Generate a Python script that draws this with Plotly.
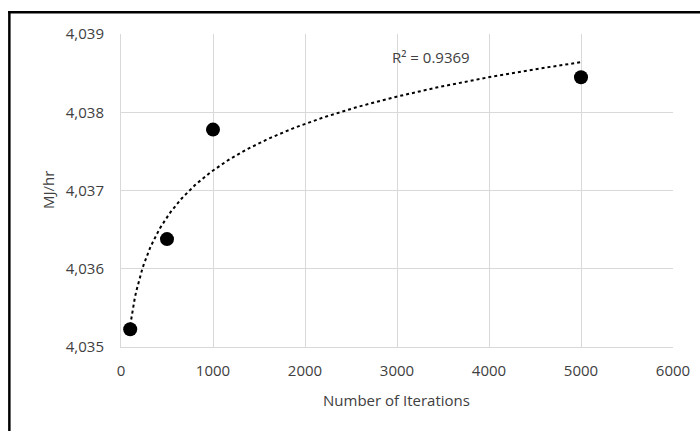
import numpy as np
import plotly.graph_objects as go

iterations = [100, 500, 1000, 5000]
mj_per_hr = [4035.227, 4036.379, 4037.778, 4038.448]
r2_label = "R² = 0.9369"

# Logarithmic trendline (least squares on ln x), as Excel does
x = np.array(iterations, dtype=float)
y = np.array(mj_per_hr, dtype=float)
a, b = np.polyfit(np.log(x), y, 1)
xt = np.linspace(x.min(), x.max(), 300)
yt = a * np.log(xt) + b

font = "Open Sans, Liberation Sans, sans-serif"
txt = "#404040"
fig = go.Figure()
fig.add_trace(go.Scatter(x=xt, y=yt, mode="lines",
                         line=dict(color="black", width=2, dash="dot"),
                         hoverinfo="skip", showlegend=False))
fig.add_trace(go.Scatter(x=iterations, y=mj_per_hr, mode="markers",
                         marker=dict(color="black", size=14),
                         showlegend=False))

fig.add_annotation(x=3370, y=4038.71, text=r2_label, showarrow=False,
                   font=dict(family=font, size=15, color=txt))

# axis titles
fig.add_annotation(xref="paper", yref="paper", x=0.499, y=-0.168,
                   text="Number of Iterations", showarrow=False,
                   xanchor="center", yanchor="middle",
                   font=dict(family=font, size=15, color=txt))
fig.add_annotation(xref="paper", yref="paper", x=-0.133, y=0.5,
                   text="MJ/hr", showarrow=False, textangle=-90,
                   xanchor="center", yanchor="middle",
                   font=dict(family=font, size=15, color=txt))

# outer chart frame (partially cropped in the reference)
fig.add_shape(type="rect", xref="paper", yref="paper",
              x0=-0.2045, x1=1.1, y0=1.0655, y1=1.0735,
              fillcolor="black", line=dict(width=0), layer="above")
fig.add_shape(type="rect", xref="paper", yref="paper",
              x0=-0.2045, x1=-0.2000, y0=1.0735, y1=-0.4,
              fillcolor="black", line=dict(width=0), layer="above")

fig.update_layout(
    width=700, height=431,
    margin=dict(l=121, r=27, t=34, b=84),
    plot_bgcolor="white", paper_bgcolor="white",
    font=dict(family=font, size=15, color=txt),
)
fig.update_xaxes(range=[0, 6000], dtick=1000, tickformat="d",
                 showgrid=True, gridcolor="#d9d9d9", gridwidth=1,
                 showline=True, linecolor="#d9d9d9", zeroline=False,
                 ticks="", ticklabelstandoff=10, automargin=False)
fig.update_yaxes(range=[4035, 4039], dtick=1, tickformat=",d",
                 showgrid=True, gridcolor="#d9d9d9", gridwidth=1,
                 showline=True, linecolor="#d9d9d9", zeroline=False,
                 ticks="", ticklabelstandoff=13, automargin=False)

fig.write_html("out.html", config={"displayModeBar": False},
               post_script="document.body.style.margin='0';")
